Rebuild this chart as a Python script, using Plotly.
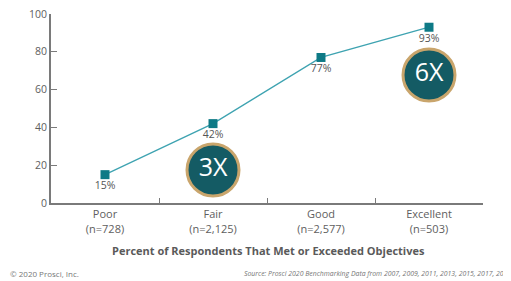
import plotly.graph_objects as go

categories = ["Poor<br>(n=728)", "Fair<br>(n=2,125)", "Good<br>(n=2,577)", "Excellent<br>(n=503)"]
values = [15, 42, 77, 93]
value_labels = ["15%", "42%", "77%", "93%"]
badge_x = ["Fair<br>(n=2,125)", "Excellent<br>(n=503)"]
badge_y = [17.5, 67.7]
badge_text = ["3X", "6X"]
y_ticks = [0, 20, 40, 60, 80, 100]

# the page keeps an 8px body margin, so work in figure coords = page - 8
OFF = 8
W, H = 511 - OFF, 281 - OFF
L, T = 51 - OFF, 14 - OFF
R = W - (483 - OFF)
B = H - (203 - OFF)
pw, ph = W - L - R, H - T - B

def px(x):
    return (x - OFF - L) / pw

def py(y):
    return (H - B - (y - OFF)) / ph

fig = go.Figure()
fig.add_trace(go.Scatter(
    x=categories, y=values, mode="lines+markers+text",
    text=value_labels, textposition="bottom center",
    textfont=dict(family="Open Sans", size=10.5, color="#555555"),
    line=dict(color="#3ea3b1", width=1.3),
    marker=dict(symbol="square", size=9, color="#0e7a86"),
    cliponaxis=False, hoverinfo="skip",
))
fig.add_trace(go.Scatter(
    x=badge_x, y=badge_y, mode="markers+text",
    text=badge_text, textposition="middle center",
    textfont=dict(family="Open Sans", size=25, color="white"),
    marker=dict(symbol="circle", size=52, color="#145b64",
                line=dict(color="#c9a56c", width=3)),
    cliponaxis=False, hoverinfo="skip",
))

axis_color = "#7a7a7a"
fig.update_layout(
    width=W, height=H, margin=dict(l=L, r=R, t=T, b=B, autoexpand=False),
    paper_bgcolor="white", plot_bgcolor="white", showlegend=False,
    font=dict(family="Open Sans", color="#5e5e5e"),
    xaxis=dict(type="category", range=[-0.5, 3.5], showline=True,
               linecolor=axis_color, linewidth=2, ticks="inside",
               tickson="boundaries", ticklen=5, tickcolor=axis_color,
               showgrid=False, zeroline=False, automargin=False,
               tickfont=dict(family="Open Sans", size=11, color="#5e5e5e")),
    yaxis=dict(range=[0, 100], tickvals=y_ticks, showline=True,
               linecolor=axis_color, linewidth=2, ticks="inside",
               ticklen=6, tickcolor=axis_color, showgrid=False,
               zeroline=False, automargin=False, ticklabeloverflow="allow",
               tickfont=dict(family="Open Sans", size=10.5, color="#5e5e5e")),
    annotations=[
        dict(text="<b>Percent of Respondents That Met or Exceeded Objectives</b>",
             xref="paper", yref="paper", x=px(268), y=py(250),
             xanchor="center", yanchor="middle", showarrow=False,
             font=dict(family="Open Sans", size=11, color="#5a5a5a")),
        dict(text="© 2020 Prosci, Inc.", xref="paper", yref="paper",
             x=px(8), y=py(273), xanchor="left", yanchor="middle",
             showarrow=False, font=dict(family="Open Sans", size=8, color="#777777")),
        dict(text="<i>Source: Prosci 2020 Benchmarking Data from 2007, 2009, 2011, 2013, 2015, 2017, 2019</i>",
             xref="paper", yref="paper", x=px(242), y=py(273),
             xanchor="left", yanchor="middle", showarrow=False,
             font=dict(family="Open Sans", size=6.9, color="#777777")),
    ],
)
fig.write_html("out.html")
